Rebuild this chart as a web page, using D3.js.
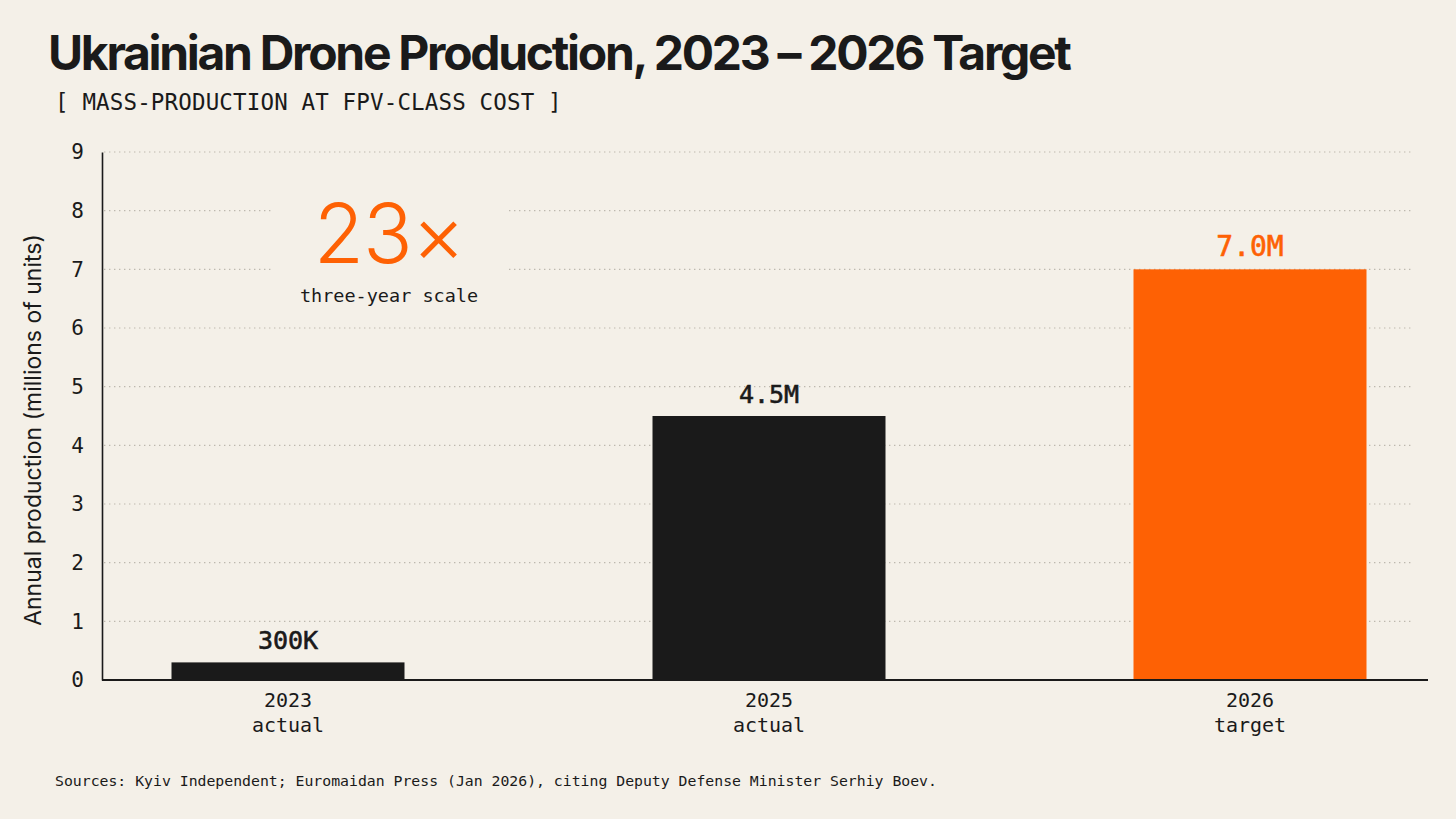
<!DOCTYPE html>
<html>
<head>
<meta charset="utf-8">
<script src="https://cdn.jsdelivr.net/npm/d3@7"></script>
<style>
  html, body { margin: 0; padding: 0; background: #f4f0e8; }
  svg { display: block; }
</style>
</head>
<body>
<div id="chart"></div>
<script>
// Data
const categories = ["2023", "2025", "2026"];
const subLabels = ["actual", "actual", "target"];
const values = [0.3, 4.5, 7.0];            // millions of units
const valueLabels = ["300K", "4.5M", "7.0M"];
const highlight = [false, false, true];
const yTicks = [0, 1, 2, 3, 4, 5, 6, 7, 8, 9];

const W = 1456, H = 819;
const ORANGE = "#fe6104", INK = "#1a1a1a", BG = "#f4f0e8";
const MONO = "'DejaVu Sans Mono', 'Liberation Mono', monospace";
const SANS = "Inter, 'Noto Sans', sans-serif";

const margin = { top: 152, right: 28, bottom: 139, left: 102 };
const plotW = W - margin.left - margin.right;
const plotH = H - margin.top - margin.bottom;

const svg = d3.select("#chart").append("svg")
    .attr("width", W)
    .attr("height", H);

svg.append("rect").attr("width", W).attr("height", H).attr("fill", BG);

// Title + subtitle
svg.append("text")
    .attr("x", 48).attr("y", 70)
    .attr("font-family", SANS)
    .attr("font-weight", 700)
    .attr("font-size", 48)
    .attr("letter-spacing", -2.3)
    .attr("fill", INK)
    .text("Ukrainian Drone Production, 2023 – 2026 Target");

svg.append("text")
    .attr("x", 55).attr("y", 110)
    .attr("font-family", MONO)
    .attr("font-size", 22.5)
    .attr("letter-spacing", 0.15)
    .attr("fill", INK)
    .text("[ MASS-PRODUCTION AT FPV-CLASS COST ]");

const g = svg.append("g").attr("transform", `translate(${margin.left},${margin.top})`);

const y = d3.scaleLinear().domain([0, 9]).range([plotH, 0]);
const x = d3.scalePoint().domain(categories).range([186, 1148]);
const barW = 233;

// Dotted gridlines
g.append("g")
    .selectAll("line")
    .data(yTicks.filter(t => t > 0))
    .join("line")
    .attr("x1", 2).attr("x2", 1311)
    .attr("y1", d => y(d)).attr("y2", d => y(d))
    .attr("stroke", "#bdb8ae")
    .attr("stroke-width", 1.2)
    .attr("stroke-dasharray", "1.4,3.6");

// Y axis
const yAxis = g.append("g")
    .call(d3.axisLeft(y).tickValues(yTicks).tickSize(0).tickPadding(18).tickFormat(d3.format("d")));
yAxis.select(".domain").attr("stroke", INK).attr("stroke-width", 1.6);
yAxis.selectAll("text")
    .attr("font-family", MONO)
    .attr("font-size", 21)
    .attr("fill", INK);

svg.append("text")
    .attr("transform", `translate(41,430) rotate(-90)`)
    .attr("text-anchor", "middle")
    .attr("font-family", SANS)
    .attr("font-size", 23)
    .attr("fill", INK)
    .text("Annual production (millions of units)");

// Bars
const rows = categories.map((c, i) => ({ cat: c, sub: subLabels[i], v: values[i], label: valueLabels[i], hi: highlight[i] }));

g.selectAll(".bar")
    .data(rows)
    .join("rect")
    .attr("class", "bar")
    .attr("x", d => x(d.cat) - barW / 2)
    .attr("y", d => y(d.v))
    .attr("width", barW)
    .attr("height", d => y(0) - y(d.v))
    .attr("fill", d => d.hi ? ORANGE : INK);

// Baseline
g.append("line")
    .attr("x1", 0).attr("x2", plotW)
    .attr("y1", y(0)).attr("y2", y(0))
    .attr("stroke", INK)
    .attr("stroke-width", 2);

// Value labels
g.selectAll(".value")
    .data(rows)
    .join("text")
    .attr("class", "value")
    .attr("x", d => x(d.cat))
    .attr("y", d => y(d.v) - 13)
    .attr("text-anchor", "middle")
    .attr("font-family", MONO)
    .attr("font-size", d => d.hi ? 28 : 25)
    .attr("fill", d => d.hi ? ORANGE : INK)
    .attr("stroke", d => d.hi ? ORANGE : INK)
    .attr("stroke-width", 0.6)
    .text(d => d.label);

// Category labels
const cat = g.selectAll(".cat")
    .data(rows)
    .join("text")
    .attr("class", "cat")
    .attr("text-anchor", "middle")
    .attr("font-family", MONO)
    .attr("font-size", 20)
    .attr("fill", INK);
cat.append("tspan").attr("x", d => x(d.cat)).attr("y", y(0) + 27).text(d => d.cat);
cat.append("tspan").attr("x", d => x(d.cat)).attr("y", y(0) + 52).text(d => d.sub);

// 23x callout
const ann = svg.append("g").attr("transform", "translate(389,0)");
ann.append("rect")
    .attr("x", -117).attr("y", 192)
    .attr("width", 235).attr("height", 118)
    .attr("fill", BG);
ann.append("text")
    .attr("y", 263)
    .attr("text-anchor", "middle")
    .attr("font-family", SANS)
    .attr("font-weight", 300)
    .attr("font-size", 82)
    .attr("letter-spacing", -1)
    .attr("fill", ORANGE)
    .text("23×");
ann.append("text")
    .attr("y", 302)
    .attr("text-anchor", "middle")
    .attr("font-family", MONO)
    .attr("font-size", 18.5)
    .attr("fill", INK)
    .text("three-year scale");

// Sources
svg.append("text")
    .attr("x", 55).attr("y", 786)
    .attr("font-family", MONO)
    .attr("font-size", 14.8)
    .attr("fill", INK)
    .text("Sources: Kyiv Independent; Euromaidan Press (Jan 2026), citing Deputy Defense Minister Serhiy Boev.");
</script>
</body>
</html>
